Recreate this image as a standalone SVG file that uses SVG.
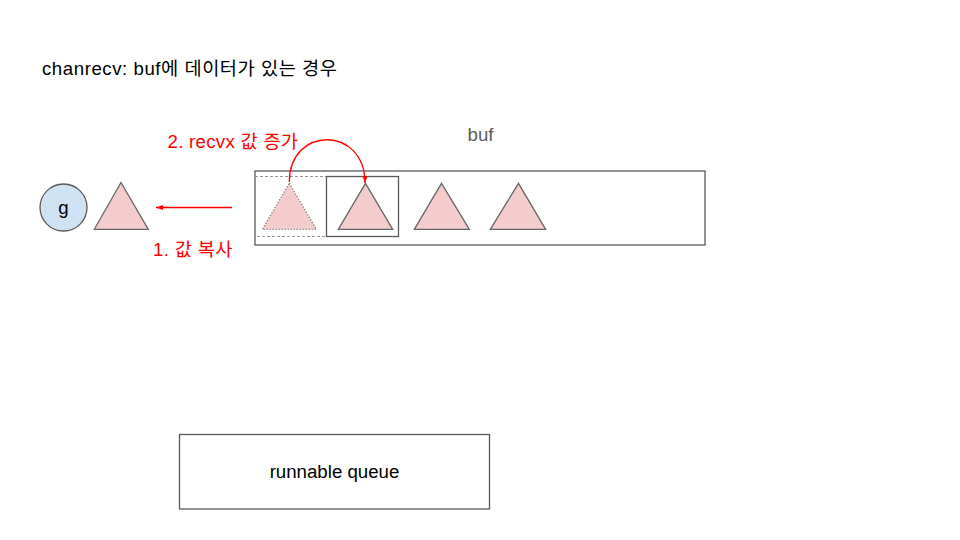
<svg xmlns="http://www.w3.org/2000/svg" width="960" height="540" viewBox="0 0 960 540">
<style>
text{font-family:"Liberation Sans",Arial,"Noto Sans CJK KR",sans-serif;font-size:18.67px}
.dark{fill:#000}
.grey{fill:#595959}
.red{fill:#ff0000}
.box{fill:none;stroke:#595959;stroke-width:1.3}
.tri{fill:#f4cccc;stroke:#666666;stroke-width:1.3;stroke-linejoin:miter}
.tridot{fill:#f4cccc;stroke:#666666;stroke-width:1.3;stroke-dasharray:1 2}
.dash{fill:none;stroke:#999999;stroke-width:1;stroke-dasharray:3 2}
.conn{fill:none;stroke:#ff0000;stroke-width:1.3}
</style>
<defs>
<marker id="ah" markerWidth="8" markerHeight="8" viewBox="0 0 8 8" refX="7" refY="4" orient="auto" markerUnits="userSpaceOnUse">
<path d="M0,1.5 L7,4 L0,6.5 Z" fill="#ff0000"/>
</marker>
</defs>
<rect width="960" height="540" fill="#ffffff"/>
<text id="title" class="dark" x="42" y="75" textLength="295" lengthAdjust="spacing">chanrecv: buf에 데이터가 있는 경우</text>
<g id="g-node">
<circle cx="63.5" cy="207.5" r="23.5" fill="#cfe2f3" stroke="#595959" stroke-width="1.3"/>
<text class="dark" x="63.5" y="214" text-anchor="middle">g</text>
</g>
<g id="value">
<polygon class="tri" points="121,182.5 148.3,229.3 94.3,229.3"/>
</g>
<g id="buf">
<rect class="box" x="255" y="171" width="450" height="74"/>
<text class="grey" x="467.5" y="140.7">buf</text>
</g>
<g id="old-slot">
<line class="dash" x1="255" y1="176.5" x2="326.5" y2="176.5"/>
<line class="dash" x1="257" y1="236.5" x2="326.5" y2="236.5"/>
<polygon class="tridot" points="289.3,183.3 316.3,229.3 262.3,229.3"/>
</g>
<g id="recvx-slot">
<rect class="box" x="326.5" y="176.5" width="72" height="60"/>
<polygon class="tri" points="365.5,183.3 392.7,229.3 338.3,229.3"/>
</g>
<g id="elem3">
<polygon class="tri" points="441.5,183.3 469.3,229.3 414.3,229.3"/>
</g>
<g id="elem4">
<polygon class="tri" points="518.5,183.3 545.7,229.3 490.3,229.3"/>
</g>
<g id="runq">
<rect class="box" x="179.5" y="434.5" width="310" height="74.5"/>
<text class="dark" x="334.5" y="478.3" text-anchor="middle">runnable queue</text>
</g>
<g id="connectors">
<line class="conn" x1="232" y1="207.5" x2="156" y2="207.5" marker-end="url(#ah)"/>
<path class="conn" d="M289.3,182 C289.3,125.5 365,125.5 365,183" marker-end="url(#ah)"/>
<text class="red" x="153" y="256" textLength="79.5" lengthAdjust="spacing">1. 값 복사</text>
<text class="red" x="167.5" y="148.3" textLength="130.5" lengthAdjust="spacing">2. recvx 값 증가</text>
</g>
</svg>
